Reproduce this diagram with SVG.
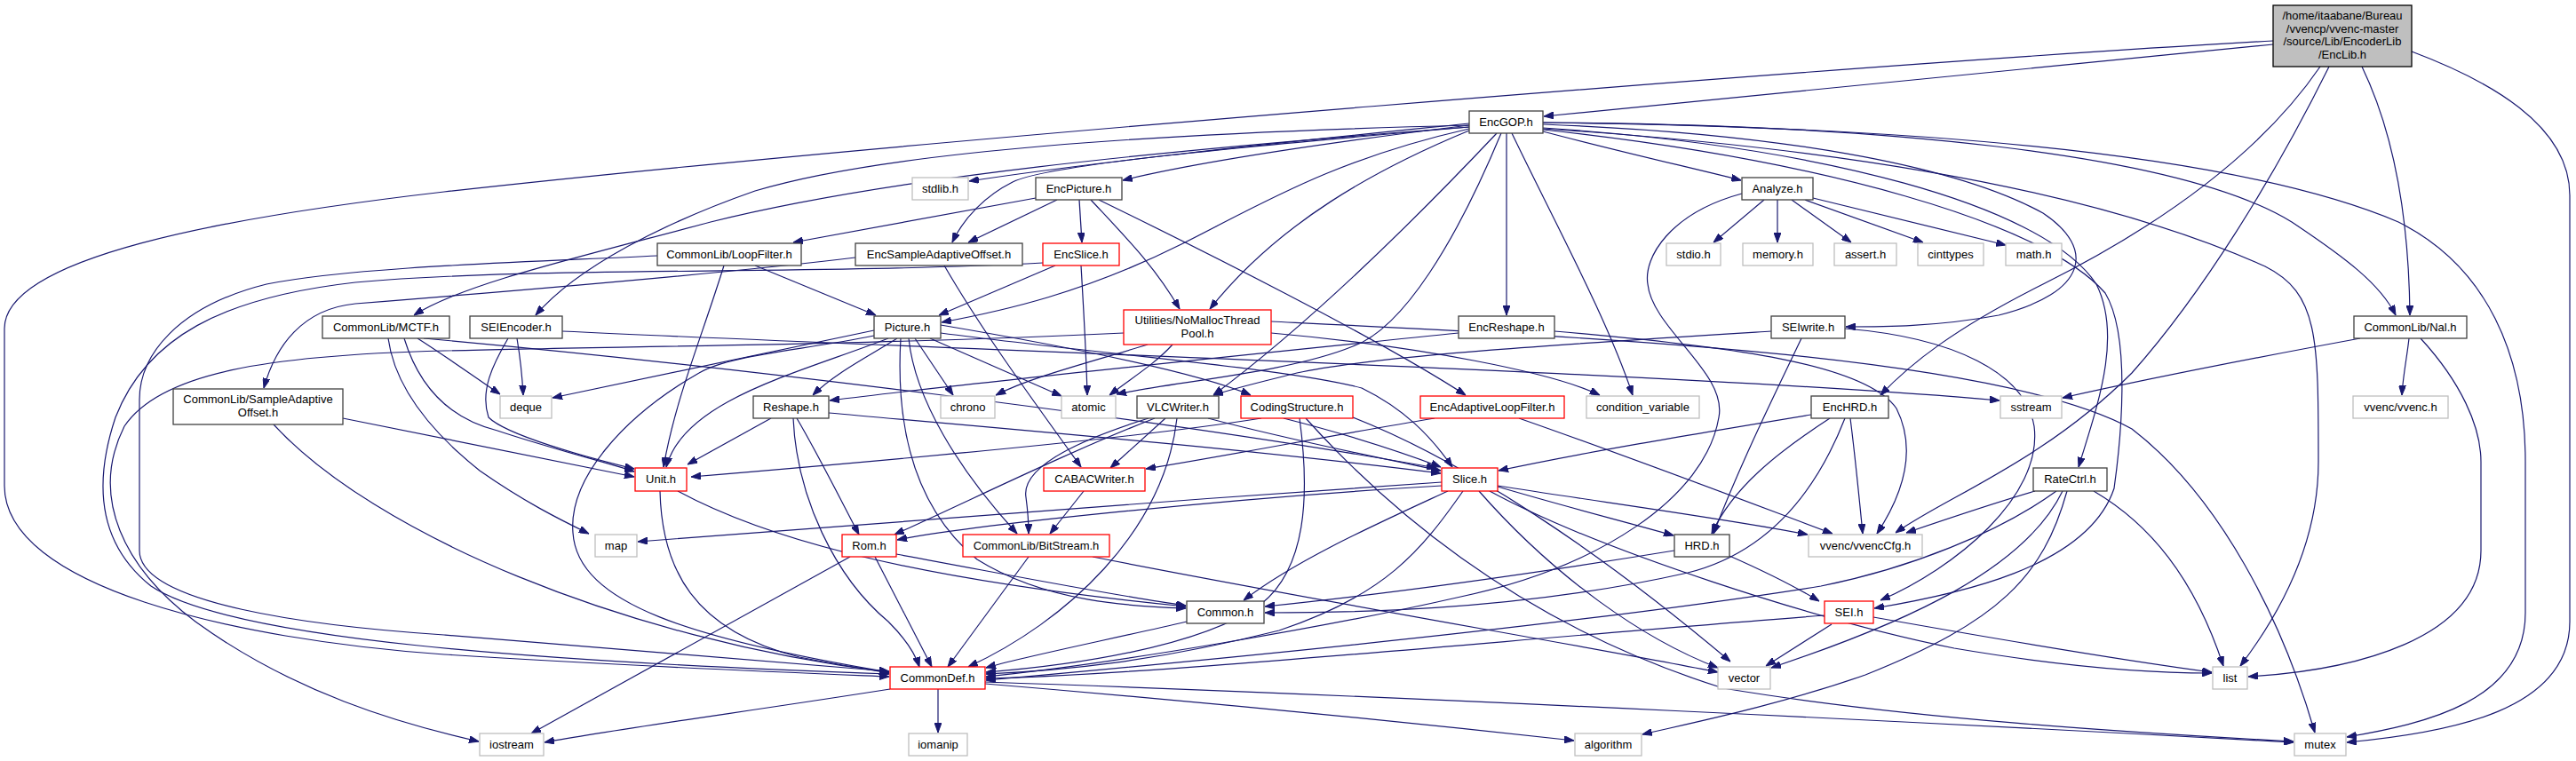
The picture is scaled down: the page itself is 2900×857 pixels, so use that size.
<svg xmlns="http://www.w3.org/2000/svg" width="2900" height="857" viewBox="0 0 2900 857">
<style>
.n rect{fill:#fff;stroke:#404040;stroke-width:1.3}
.r rect{fill:#fff;stroke:#ff0000;stroke-width:1.3}
.g rect{fill:#fff;stroke:#bfbfbf;stroke-width:1.3}
text{font-family:"Liberation Sans",Arial,sans-serif;font-size:13px;fill:#000;text-anchor:middle}
#edges path{fill:none;stroke:#191970;stroke-width:1.2;marker-end:url(#a)}
</style>
<defs>
<marker id="a" viewBox="0 0 11 8" refX="11" refY="4" markerWidth="11" markerHeight="8" markerUnits="userSpaceOnUse" orient="auto"><path d="M0,0 L11,4 L0,8 z" fill="#191970" stroke="#191970" stroke-width="1"/></marker>
</defs>
<rect width="2900" height="857" fill="#fff"/>
<g id="edges">
<path d="M2559,50 L1738,131"/>
<path d="M2559,46 C2100,72 1000,160 500,216 C250,245 5,290 5,370 L5,547 C5,660 260,720 500,737 C700,750 880,757 1001,762"/>
<path d="M2612,75 C2540,180 2420,260 2300,320 C2200,370 2150,410 2117,445"/>
<path d="M2622,75 C2560,200 2480,330 2400,420 C2300,520 2190,560 2134,600"/>
<path d="M2659,75 C2700,160 2712,260 2713,355"/>
<path d="M2715,58 C2800,90 2893,140 2893,220 L2893,700 C2893,800 2760,825 2642,836"/>
<path d="M1654,139 C1450,160 1250,180 1091,204"/>
<path d="M1654,141 C1500,160 1350,182 1264,203"/>
<path d="M1654,143 C1400,165 1180,185 1140,205 C1110,220 1085,245 1072,273"/>
<path d="M1654,145 C1500,180 1420,230 1330,275 C1220,330 1130,350 1060,363"/>
<path d="M1654,147 C1550,190 1440,250 1362,348"/>
<path d="M1654,141 C1300,150 1000,170 850,215 C750,250 650,300 603,355"/>
<path d="M1654,143 C1300,170 1000,200 800,250 C650,290 520,320 466,355"/>
<path d="M1696,150 L1696,355"/>
<path d="M1737,148 C1820,170 1900,188 1960,203"/>
<path d="M1737,140 C2000,150 2200,185 2300,240 C2360,280 2350,330 2250,355 C2180,368 2120,368 2078,368"/>
<path d="M1737,138 C2100,140 2450,170 2580,250 C2640,290 2680,320 2697,355"/>
<path d="M1737,138 C2100,142 2500,165 2700,250 C2800,300 2843,400 2843,520 L2843,690 C2843,790 2730,815 2642,830"/>
<path d="M1737,145 C2050,165 2350,210 2550,300 C2610,330 2610,380 2610,520 C2610,620 2560,700 2522,750"/>
<path d="M1737,144 C2050,165 2300,230 2360,320 C2390,380 2360,460 2340,526"/>
<path d="M1737,146 C2050,180 2300,250 2370,330 C2400,380 2387,500 2380,550 C2350,640 2200,670 2110,685"/>
<path d="M1685,150 C1600,240 1480,360 1366,445"/>
<path d="M1690,150 C1640,270 1580,370 1523,390 C1450,420 1320,430 1257,444"/>
<path d="M1702,150 C1750,250 1810,360 1838,445"/>
<path d="M1166,223 C1050,245 950,262 893,273"/>
<path d="M1190,225 L1090,273"/>
<path d="M1215,225 L1218,273"/>
<path d="M1228,225 C1270,270 1300,300 1328,348"/>
<path d="M1237,225 C1350,280 1550,380 1650,445"/>
<path d="M963,290 C800,310 550,330 400,342 C340,348 310,390 297,437"/>
<path d="M1063,299 C1110,380 1170,460 1217,526"/>
<path d="M1188,299 L1057,355"/>
<path d="M1217,299 C1220,350 1223,400 1224,445"/>
<path d="M1174,296 C900,310 600,300 400,318 C250,335 165,380 130,470 C100,560 120,620 170,660 C260,720 600,745 1001,759"/>
<path d="M850,299 L986,355"/>
<path d="M815,299 C790,380 760,450 747,526"/>
<path d="M740,288 C600,295 400,300 300,320 C200,345 157,400 157,450 L157,620 C157,680 350,705 500,715 C700,730 900,748 1001,756"/>
<path d="M470,381 C500,400 535,425 563,444"/>
<path d="M455,381 C470,430 500,470 560,485 C620,505 680,520 714,531"/>
<path d="M437,381 C445,440 490,490 540,530 C590,565 630,585 663,601"/>
<path d="M477,381 C800,410 1300,470 1617,527"/>
<path d="M582,381 C586,405 588,425 589,445"/>
<path d="M572,381 C555,410 540,440 550,470 C570,490 660,515 714,528"/>
<path d="M633,373 C1100,395 1900,420 2251,451"/>
<path d="M386,471 L714,537"/>
<path d="M308,478 C420,600 700,720 1001,757"/>
<path d="M984,372 C880,395 760,420 622,448"/>
<path d="M1000,381 C900,420 770,450 750,526"/>
<path d="M1010,381 C980,400 940,420 915,445"/>
<path d="M1014,381 C1010,450 1015,560 1100,630 C1180,680 1280,683 1335,685"/>
<path d="M1023,381 C1030,450 1080,530 1145,601"/>
<path d="M1030,381 L1073,445"/>
<path d="M1047,381 L1195,446"/>
<path d="M1059,375 C1250,400 1450,415 1533,437 C1580,460 1610,490 1635,526"/>
<path d="M1059,366 C1200,390 1350,420 1408,445"/>
<path d="M984,378 C900,395 820,400 787,420 C700,470 640,540 645,600 C650,680 780,720 1001,757"/>
<path d="M1292,388 C1220,410 1160,425 1121,445"/>
<path d="M1320,388 C1300,410 1275,425 1249,445"/>
<path d="M1265,375 C1000,388 700,390 500,395 C300,400 180,420 140,480 C100,560 140,640 220,700 C330,780 450,815 539,835"/>
<path d="M1431,375 C1600,390 1750,420 1801,445"/>
<path d="M1431,362 C1800,380 2250,400 2400,483 C2500,560 2570,700 2606,825"/>
<path d="M1642,375 C1400,400 1100,430 934,451"/>
<path d="M1750,373 C1950,390 2100,410 2135,460 C2160,510 2140,560 2113,601"/>
<path d="M1986,225 L1929,273"/>
<path d="M2001,225 L2001,273"/>
<path d="M2017,225 L2084,273"/>
<path d="M2032,225 L2165,273"/>
<path d="M2041,223 L2258,276"/>
<path d="M1961,218 C1880,240 1850,290 1855,320 C1860,370 1945,420 1935,470 C1920,560 1800,640 1640,673 C1500,705 1250,748 1110,762"/>
<path d="M2028,381 C2000,440 1960,520 1929,601"/>
<path d="M2077,370 C2200,380 2280,420 2290,480 C2300,560 2200,640 2117,676"/>
<path d="M1994,373 C1800,385 1550,400 1460,420 C1420,430 1390,437 1366,445"/>
<path d="M2657,381 C2500,410 2380,435 2322,448"/>
<path d="M2712,381 C2710,400 2705,425 2704,445"/>
<path d="M2725,381 C2770,430 2793,480 2793,520 L2793,620 C2793,720 2650,755 2531,762"/>
<path d="M2039,467 C1900,490 1780,510 1687,530"/>
<path d="M2060,471 C2000,510 1950,550 1927,601"/>
<path d="M2083,471 C2088,510 2093,560 2097,601"/>
<path d="M2077,471 C2050,540 2000,620 1900,645 C1700,690 1500,690 1424,690"/>
<path d="M2291,553 C2240,568 2190,585 2146,600"/>
<path d="M2315,553 C2250,600 2150,640 2050,660 C1800,700 1400,740 1110,766"/>
<path d="M2322,553 C2280,640 2150,700 1994,752"/>
<path d="M2327,553 C2300,650 2250,700 2100,760 C2000,795 1900,815 1849,827"/>
<path d="M2357,553 C2420,590 2470,650 2503,750"/>
<path d="M1623,543 C1300,565 900,595 718,610"/>
<path d="M1623,547 C1400,560 1100,590 1010,608"/>
<path d="M1630,553 C1550,590 1460,630 1400,676"/>
<path d="M1647,553 C1600,620 1560,670 1440,710 C1300,745 1200,755 1110,759"/>
<path d="M1665,553 C1750,650 1850,720 1934,752"/>
<path d="M1686,548 C1760,570 1820,585 1884,603"/>
<path d="M1677,553 C1800,620 2050,700 2200,730 C2330,752 2430,758 2490,758"/>
<path d="M1686,547 C1800,565 1950,585 2035,602"/>
<path d="M1885,620 C1700,650 1550,670 1424,683"/>
<path d="M1947,626 C1990,645 2020,660 2048,677"/>
<path d="M868,471 L774,523"/>
<path d="M897,471 C920,510 945,560 967,602"/>
<path d="M893,471 C897,560 940,650 1000,700 C1020,720 1030,735 1035,751"/>
<path d="M933,465 C1100,480 1400,505 1622,533"/>
<path d="M743,553 C745,640 780,710 900,740 C950,750 980,754 1001,758"/>
<path d="M763,553 C850,600 1000,650 1335,683"/>
<path d="M957,627 L598,826"/>
<path d="M985,627 L1049,751"/>
<path d="M1009,624 C1150,650 1250,670 1335,682"/>
<path d="M1300,471 C1200,510 1100,560 1007,602"/>
<path d="M1312,471 L1250,527"/>
<path d="M1293,471 C1200,500 1150,530 1155,560 C1157,575 1158,585 1158,601"/>
<path d="M1325,471 C1310,600 1200,700 1090,751"/>
<path d="M1360,471 C1450,495 1550,515 1622,530"/>
<path d="M1420,471 C1300,490 1100,510 778,537"/>
<path d="M1445,471 C1520,490 1580,510 1622,526"/>
<path d="M1463,471 C1475,560 1470,640 1420,680 C1350,730 1200,750 1110,757"/>
<path d="M1523,470 C1650,520 1800,620 1948,745"/>
<path d="M1470,471 C1550,560 1700,700 1940,775 C2150,810 2400,825 2582,835"/>
<path d="M1220,553 L1182,601"/>
<path d="M1158,627 L1067,751"/>
<path d="M1230,627 C1500,680 1800,730 1934,757"/>
<path d="M1615,471 C1500,490 1400,510 1290,528"/>
<path d="M1710,471 C1850,520 1980,570 2063,601"/>
<path d="M1336,700 C1250,720 1150,740 1110,752"/>
<path d="M2062,703 L1988,750"/>
<path d="M2054,693 C1700,720 1300,760 1110,764"/>
<path d="M2109,695 C2250,720 2400,745 2490,757"/>
<path d="M1002,776 C850,800 700,820 613,836"/>
<path d="M1056,776 L1056,825"/>
<path d="M1109,770 C1350,790 1600,815 1772,834"/>
<path d="M1109,768 C1600,785 2200,815 2582,836"/>
</g>
<g id="root"><rect x="2559" y="6" width="156" height="69" fill="#bfbfbf" stroke="#000" stroke-width="1.3"/><text x="2637" y="22">/home/itaabane/Bureau</text><text x="2637" y="37">/vvencp/vvenc-master</text><text x="2637" y="51">/source/Lib/EncoderLib</text><text x="2637" y="66">/EncLib.h</text></g>
<g id="EncGOP" class="n"><rect x="1654" y="125" width="83" height="25"/><text x="1695.5" y="142">EncGOP.h</text></g>
<g id="stdlib" class="g"><rect x="1027" y="200" width="63" height="25"/><text x="1058.5" y="217">stdlib.h</text></g>
<g id="EncPicture" class="n"><rect x="1166" y="200" width="97" height="25"/><text x="1214.5" y="217">EncPicture.h</text></g>
<g id="Analyze" class="n"><rect x="1961" y="200" width="80" height="25"/><text x="2001" y="217">Analyze.h</text></g>
<g id="EncSAO" class="n"><rect x="963" y="274" width="188" height="25"/><text x="1057" y="291">EncSampleAdaptiveOffset.h</text></g>
<g id="EncSlice" class="r"><rect x="1174" y="274" width="86" height="25"/><text x="1217" y="291">EncSlice.h</text></g>
<g id="LoopFilter" class="n"><rect x="740" y="274" width="162" height="25"/><text x="821" y="291">CommonLib/LoopFilter.h</text></g>
<g id="stdio" class="g"><rect x="1876" y="274" width="61" height="25"/><text x="1906.5" y="291">stdio.h</text></g>
<g id="memory" class="g"><rect x="1962" y="274" width="79" height="25"/><text x="2001.5" y="291">memory.h</text></g>
<g id="assert" class="g"><rect x="2065" y="274" width="70" height="25"/><text x="2100" y="291">assert.h</text></g>
<g id="cinttypes" class="g"><rect x="2159" y="274" width="74" height="25"/><text x="2196" y="291">cinttypes</text></g>
<g id="math" class="g"><rect x="2258" y="274" width="63" height="25"/><text x="2289.5" y="291">math.h</text></g>
<g id="MCTF" class="n"><rect x="363" y="356" width="143" height="25"/><text x="434.5" y="373">CommonLib/MCTF.h</text></g>
<g id="SEIEncoder" class="n"><rect x="529" y="356" width="104" height="25"/><text x="581" y="373">SEIEncoder.h</text></g>
<g id="Picture" class="n"><rect x="984" y="356" width="75" height="25"/><text x="1021.5" y="373">Picture.h</text></g>
<g id="NoMalloc" class="r"><rect x="1265" y="349" width="166" height="39"/><text x="1348" y="365">Utilities/NoMallocThread</text><text x="1348" y="380">Pool.h</text></g>
<g id="EncReshape" class="n"><rect x="1642" y="356" width="108" height="25"/><text x="1696" y="373">EncReshape.h</text></g>
<g id="SEIwrite" class="n"><rect x="1994" y="356" width="83" height="25"/><text x="2035.5" y="373">SEIwrite.h</text></g>
<g id="Nal" class="n"><rect x="2650" y="356" width="127" height="25"/><text x="2713.5" y="373">CommonLib/Nal.h</text></g>
<g id="SAO" class="n"><rect x="195" y="438" width="191" height="40"/><text x="290.5" y="454">CommonLib/SampleAdaptive</text><text x="290.5" y="469">Offset.h</text></g>
<g id="deque" class="g"><rect x="563" y="446" width="58" height="25"/><text x="592" y="463">deque</text></g>
<g id="Reshape" class="n"><rect x="848" y="446" width="85" height="25"/><text x="890.5" y="463">Reshape.h</text></g>
<g id="chrono" class="g"><rect x="1059" y="446" width="61" height="25"/><text x="1089.5" y="463">chrono</text></g>
<g id="atomic" class="g"><rect x="1195" y="446" width="61" height="25"/><text x="1225.5" y="463">atomic</text></g>
<g id="VLCWriter" class="n"><rect x="1280" y="446" width="92" height="25"/><text x="1326" y="463">VLCWriter.h</text></g>
<g id="CodingStructure" class="r"><rect x="1397" y="446" width="126" height="25"/><text x="1460" y="463">CodingStructure.h</text></g>
<g id="EncALF" class="r"><rect x="1599" y="446" width="162" height="25"/><text x="1680" y="463">EncAdaptiveLoopFilter.h</text></g>
<g id="condvar" class="g"><rect x="1786" y="446" width="127" height="25"/><text x="1849.5" y="463">condition_variable</text></g>
<g id="EncHRD" class="n"><rect x="2039" y="446" width="87" height="25"/><text x="2082.5" y="463">EncHRD.h</text></g>
<g id="sstream" class="g"><rect x="2252" y="446" width="69" height="25"/><text x="2286.5" y="463">sstream</text></g>
<g id="vvenc" class="g"><rect x="2649" y="446" width="107" height="25"/><text x="2702.5" y="463">vvenc/vvenc.h</text></g>
<g id="Unit" class="r"><rect x="715" y="527" width="58" height="26"/><text x="744" y="544">Unit.h</text></g>
<g id="CABACWriter" class="r"><rect x="1175" y="527" width="114" height="26"/><text x="1232" y="544">CABACWriter.h</text></g>
<g id="Slice" class="r"><rect x="1623" y="527" width="63" height="26"/><text x="1654.5" y="544">Slice.h</text></g>
<g id="RateCtrl" class="n"><rect x="2289" y="527" width="83" height="26"/><text x="2330.5" y="544">RateCtrl.h</text></g>
<g id="map" class="g"><rect x="670" y="602" width="47" height="25"/><text x="693.5" y="619">map</text></g>
<g id="Rom" class="r"><rect x="948" y="602" width="61" height="25"/><text x="978.5" y="619">Rom.h</text></g>
<g id="BitStream" class="r"><rect x="1084" y="602" width="165" height="25"/><text x="1166.5" y="619">CommonLib/BitStream.h</text></g>
<g id="HRD" class="n"><rect x="1885" y="602" width="62" height="25"/><text x="1916" y="619">HRD.h</text></g>
<g id="vvencCfg" class="g"><rect x="2036" y="602" width="128" height="25"/><text x="2100" y="619">vvenc/vvencCfg.h</text></g>
<g id="Common" class="n"><rect x="1336" y="677" width="87" height="25"/><text x="1379.5" y="694">Common.h</text></g>
<g id="SEI" class="r"><rect x="2054" y="677" width="55" height="25"/><text x="2081.5" y="694">SEI.h</text></g>
<g id="CommonDef" class="r"><rect x="1002" y="751" width="107" height="25"/><text x="1055.5" y="768">CommonDef.h</text></g>
<g id="vector" class="g"><rect x="1934" y="751" width="59" height="25"/><text x="1963.5" y="768">vector</text></g>
<g id="list" class="g"><rect x="2491" y="751" width="39" height="25"/><text x="2510.5" y="768">list</text></g>
<g id="iostream" class="g"><rect x="540" y="826" width="72" height="25"/><text x="576" y="843">iostream</text></g>
<g id="iomanip" class="g"><rect x="1023" y="826" width="66" height="25"/><text x="1056" y="843">iomanip</text></g>
<g id="algorithm" class="g"><rect x="1773" y="826" width="75" height="25"/><text x="1810.5" y="843">algorithm</text></g>
<g id="mutex" class="g"><rect x="2583" y="826" width="58" height="25"/><text x="2612" y="843">mutex</text></g>
</svg>
